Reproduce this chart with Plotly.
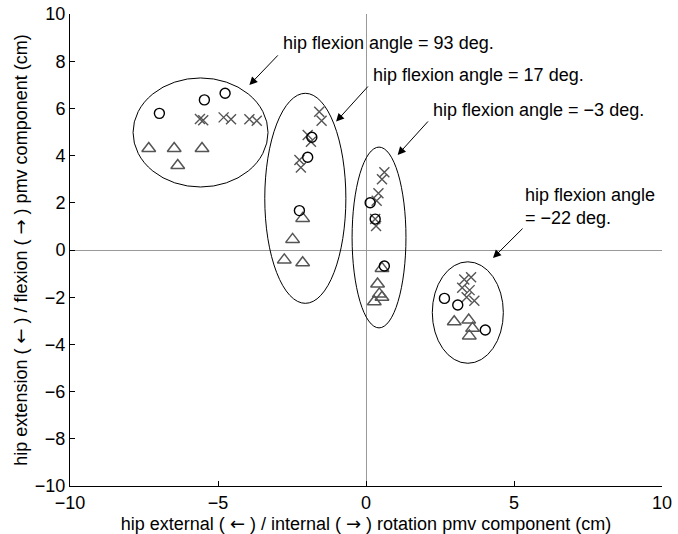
import plotly.graph_objects as go

# ---- data (cm) ----
circle_x = [-6.98, -5.46, -4.76, -1.83, -1.97, -2.25, 0.14, 0.31, 0.62, 2.65, 3.10, 4.03]
circle_y = [5.79, 6.36, 6.64, 4.78, 3.93, 1.67, 2.00, 1.31, -0.68, -2.05, -2.33, -3.39]

cross_x = [-5.61, -5.50, -4.81, -4.56, -3.94, -3.69,
           -1.58, -1.50, -1.97, -1.86, -2.25, -2.20,
           0.62, 0.54, 0.42, 0.36, 0.31, 0.34,
           3.32, 3.55, 3.25, 3.50, 3.40, 3.66]
cross_y = [5.55, 5.50, 5.62, 5.54, 5.54, 5.48,
           5.86, 5.48, 4.87, 4.59, 3.81, 3.50,
           3.29, 3.00, 2.40, 2.09, 1.31, 1.02,
           -1.25, -1.15, -1.60, -1.70, -2.00, -2.15]

tri_x = [-7.34, -6.48, -5.54, -6.36,
         -2.14, -2.48, -2.76, -2.14,
         0.54, 0.39, 0.45, 0.28, 0.54,
         2.98, 3.47, 3.60, 3.49]
tri_y = [4.30, 4.30, 4.30, 3.58,
         1.34, 0.45, -0.42, -0.54,
         -0.78, -1.44, -1.86, -2.19, -2.00,
         -3.04, -2.97, -3.32, -3.64]

# cluster ellipses: center x, center y, radius x, radius y
ell_cx = [-5.59, -2.05, 0.44, 3.44]
ell_cy = [4.98, 2.19, 0.53, -2.65]
ell_rx = [2.28, 1.37, 0.91, 1.20]
ell_ry = [2.31, 4.45, 3.83, 2.15]

# annotations
labels = ["hip flexion angle = 93 deg.", "hip flexion angle = 17 deg.",
          "hip flexion angle = \u22123 deg.", "hip flexion angle", "= \u221222 deg."]
label_x = [-2.87, 0.17, 2.20, 5.30, 5.30]
label_y = [8.76, 7.42, 5.93, 2.33, 1.34]
arrow_head_x = [-3.94, -1.01, 1.07, 4.29]
arrow_head_y = [6.99, 5.44, 4.03, -0.34]
arrow_tail_x = [-2.93, 0.11, 2.14, 5.34]
arrow_tail_y = [8.31, 6.99, 5.51, 0.97]

FONT = "Liberation Sans, Arial, Helvetica, sans-serif"
FS = 18
GRAY = "#555555"
LA = '<span style="font-family:DejaVu Sans">\u2190</span>'
RA = '<span style="font-family:DejaVu Sans">\u2192</span>'

fig = go.Figure()
fig.add_trace(go.Scatter(x=tri_x, y=tri_y, mode="markers",
                         marker=dict(symbol="triangle-up-open", size=12, color=GRAY,
                                     line=dict(width=1.5, color=GRAY)),
                         showlegend=False, hoverinfo="skip"))
fig.add_trace(go.Scatter(x=cross_x, y=cross_y, mode="markers",
                         marker=dict(symbol="x-thin-open", size=10, color=GRAY,
                                     line=dict(width=1.4, color=GRAY)),
                         showlegend=False, hoverinfo="skip"))
fig.add_trace(go.Scatter(x=circle_x, y=circle_y, mode="markers",
                         marker=dict(symbol="circle-open", size=10, color="black",
                                     line=dict(width=1.4, color="black")),
                         showlegend=False, hoverinfo="skip"))

for cx, cy, rx, ry in zip(ell_cx, ell_cy, ell_rx, ell_ry):
    fig.add_shape(type="circle", xref="x", yref="y",
                  x0=cx - rx, x1=cx + rx, y0=cy - ry, y1=cy + ry,
                  line=dict(color="black", width=1))

for t, lx, ly in zip(labels, label_x, label_y):
    fig.add_annotation(x=lx, y=ly, xref="x", yref="y", text=t, showarrow=False,
                       xanchor="left", yanchor="middle",
                       font=dict(family=FONT, size=FS, color="black"))

for hx, hy, tx, ty in zip(arrow_head_x, arrow_head_y, arrow_tail_x, arrow_tail_y):
    fig.add_annotation(x=hx, y=hy, xref="x", yref="y", ax=tx, ay=ty,
                       axref="x", ayref="y", text="", showarrow=True,
                       arrowhead=2, arrowsize=1.6, arrowwidth=1, arrowcolor="black")

axis_common = dict(showgrid=False, zeroline=True, zerolinecolor="#999999", zerolinewidth=1,
                   showline=True, linecolor="black", linewidth=1,
                   ticks="inside", ticklen=5, tickcolor="black",
                   tickfont=dict(family=FONT, size=FS, color="black"), mirror=False,
                   ticklabeloverflow="allow", automargin=False)

fig.update_xaxes(range=[-10, 10], tickvals=[-10, -5, 0, 5, 10],
                 title=dict(text=f"hip external ( {LA} ) / internal ( {RA} ) rotation pmv component (cm)",
                            font=dict(family=FONT, size=FS, color="black"), standoff=2),
                 **axis_common)
fig.update_yaxes(range=[-10, 10], tickvals=list(range(-10, 11, 2)),
                 title=dict(text=f"hip extension ( {LA} ) / flexion ( {RA} ) pmv component (cm)",
                            font=dict(family=FONT, size=FS, color="black"), standoff=2),
                 **axis_common)

fig.update_layout(width=678, height=534, margin=dict(l=70, r=16, t=14, b=48),
                  plot_bgcolor="white", paper_bgcolor="white", hovermode=False)

# remove the page's default body margin so the figure sits at the window's corner
fig.write_html("out.html", config={"displayModeBar": False, "responsive": False},
               post_script="document.body.style.margin='0px';")
